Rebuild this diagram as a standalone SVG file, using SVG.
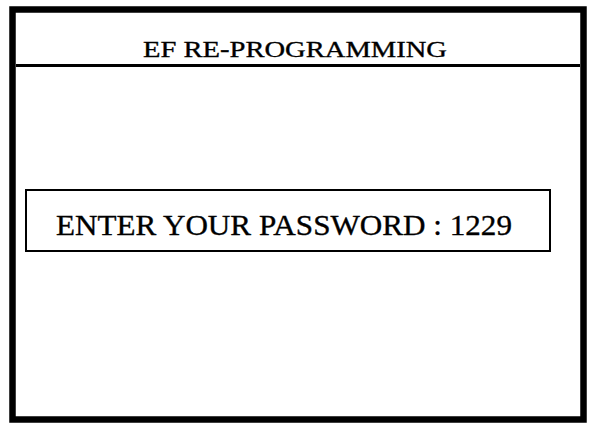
<svg xmlns="http://www.w3.org/2000/svg" width="608" height="428" viewBox="0 0 608 428">
<style>
.frame{fill:none;stroke:#000}
.t{font-family:"Liberation Serif","Times New Roman",serif;fill:#000;stroke:#000;stroke-width:0.35}
</style>
<rect width="608" height="428" fill="#fff"/>
<g id="screen">
<rect class="frame" x="12.5" y="9.5" width="571" height="410" stroke-width="6.5"/>
<line class="frame" x1="16" y1="65.5" x2="580" y2="65.5" stroke-width="3"/>
</g>
<g id="title">
<text class="t" x="143" y="57" font-size="24" textLength="304" lengthAdjust="spacingAndGlyphs">EF RE-PROGRAMMING</text>
</g>
<g id="password-box">
<rect class="frame" x="26" y="190" width="524" height="61" stroke-width="2"/>
<text class="t" x="56" y="235" font-size="30" textLength="456" lengthAdjust="spacingAndGlyphs">ENTER YOUR PASSWORD : 1229</text>
</g>
<g id="connectors"/>
</svg>
